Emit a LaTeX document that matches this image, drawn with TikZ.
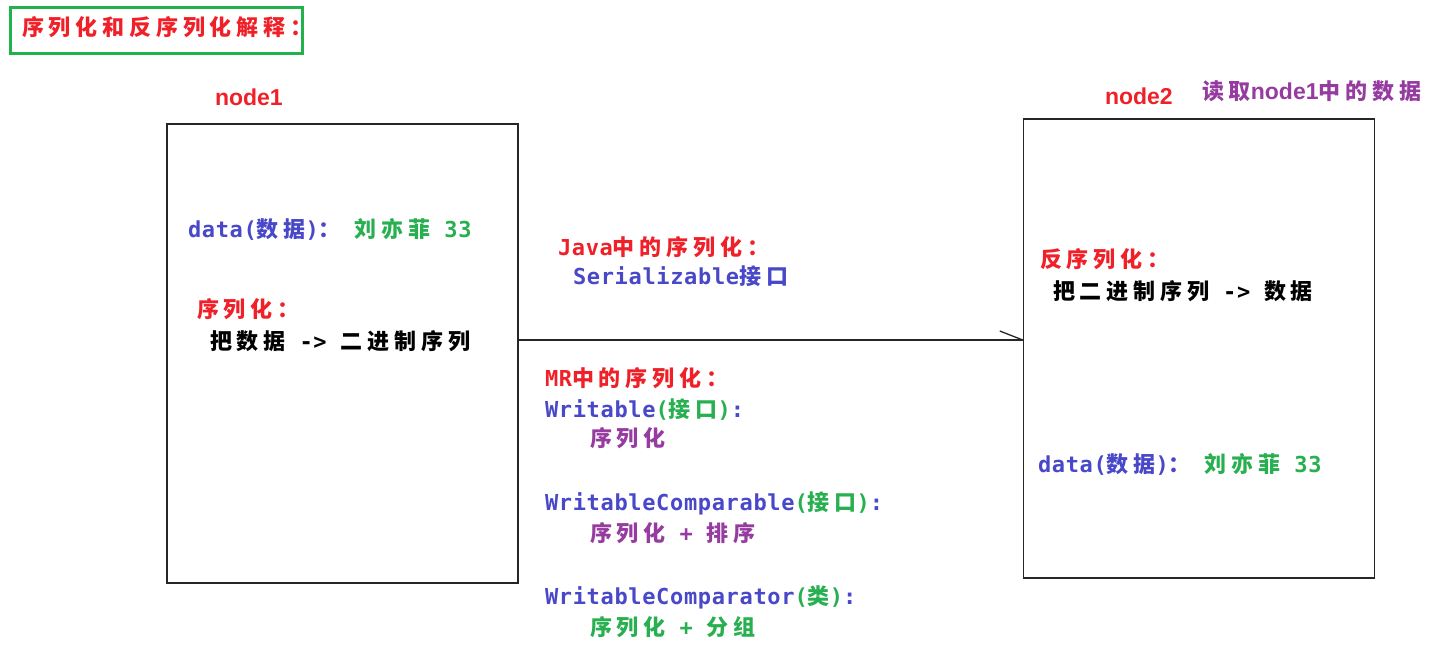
\documentclass[tikz,border=0pt]{standalone}
\usepackage{fontspec}
\newfontfamily\cjkf{Noto Sans CJK SC}[LetterSpace=22]
\newfontfamily\monof{DejaVu Sans Mono}[LetterSpace=3]
\newfontfamily\sansf{Liberation Sans}
\newcommand\zhx[1]{{\cjkf\fontsize{22}{26}\selectfont\bfseries #1}}
\newcommand\enx[1]{{\monof\fontsize{22}{26}\selectfont\bfseries #1}}
\newcommand\snx[1]{{\sansf\fontsize{23}{26}\selectfont\bfseries #1}}
\definecolor{cred}{RGB}{240,32,40}
\definecolor{cblue}{RGB}{72,72,200}
\definecolor{cgreen}{RGB}{40,175,80}
\definecolor{cpurple}{RGB}{150,60,160}
\definecolor{cframe}{RGB}{34,177,76}
\tikzset{
  txt/.style={anchor=base west, inner sep=0pt, outer sep=0pt},
  box/.style={draw=black!85, line width=1.5pt, inner sep=0pt, minimum width=351pt, minimum height=459pt},
  conn/.style={draw=black!85, line width=1.3pt}
}
\begin{document}
\begin{tikzpicture}[x=1pt,y=-1pt]
\useasboundingbox (0,0) rectangle (1450,658);
% title
\node[draw=cframe, line width=3pt, minimum width=292pt, minimum height=46pt, inner sep=0pt] (titlebox) at (156,31) {};
\node[txt, text=cred] (title) at (22,36) {\zhx{序列化和反序列化解释：}};
% node1
\node[txt, text=cred] (lab1) at (215,106) {\snx{node1}};
\node[box] (n1) at (342.5,353.5) {};
\node[txt] (d1) at (188,237) {\color{cblue}\enx{data(}\zhx{数据}\enx{)}\zhx{：}\enx{ }\color{cgreen}\zhx{刘亦菲}\enx{ 33}};
\node[txt, text=cred] (s1) at (197,317) {\zhx{序列化：}};
\node[txt, text=black] (s1b) at (210,349) {\zhx{把数据}\enx{ -> }\zhx{二进制序列}};
% node2
\node[txt, text=cred] (lab2) at (1105,105) {\snx{node2}};
\node[txt, text=cpurple] (read) at (1202,100) {\zhx{读取}\snx{node1}\zhx{中的数据}};
\node[box] (n2) at (1199,348.5) {};
\node[txt, text=cred] (ds) at (1040,267) {\zhx{反序列化：}};
\node[txt, text=black] (dsb) at (1053,299) {\zhx{把二进制序列}\enx{ -> }\zhx{数据}};
\node[txt] (d2) at (1038,472) {\color{cblue}\enx{data(}\zhx{数据}\enx{)}\zhx{：}\enx{ }\color{cgreen}\zhx{刘亦菲}\enx{ 33}};
% middle
\node[txt, text=cred] (java) at (558,255) {\enx{Java}\zhx{中的序列化：}};
\node[txt, text=cblue] (ser) at (573,284) {\enx{Serializable}\zhx{接口}};
\node[txt, text=cred] (mr) at (545,386) {\enx{MR}\zhx{中的序列化：}};
\node[txt] (w1) at (545,417) {\color{cblue}\enx{Writable}\color{cgreen}\enx{(}\zhx{接口}\enx{)}\color{cblue}\enx{:}};
\node[txt, text=cpurple] (w1b) at (590,446) {\zhx{序列化}};
\node[txt] (w2) at (545,510) {\color{cblue}\enx{WritableComparable}\color{cgreen}\enx{(}\zhx{接口}\enx{)}\color{cblue}\enx{:}};
\node[txt, text=cpurple] (w2b) at (590,541) {\zhx{序列化}\enx{ + }\zhx{排序}};
\node[txt] (w3) at (545,604) {\color{cblue}\enx{WritableComparator}\color{cgreen}\enx{(}\zhx{类}\enx{)}\color{cblue}\enx{:}};
\node[txt, text=cgreen] (w3b) at (590,635) {\zhx{序列化}\enx{ + }\zhx{分组}};
% arrow
\coordinate (ay) at (0,340);
\draw[conn] (n1.east |- ay) -- (n2.west |- ay);
\draw[conn] (n2.west |- ay) -- ++(-23,-9);
\end{tikzpicture}
\end{document}
